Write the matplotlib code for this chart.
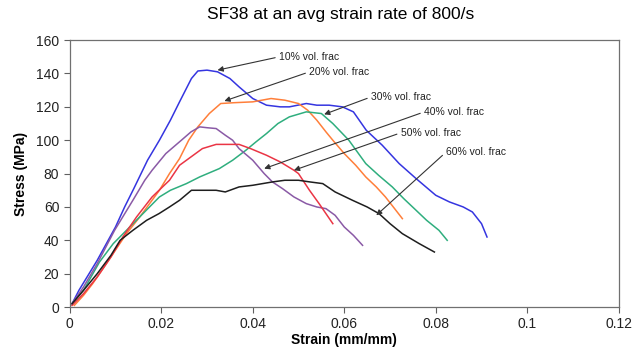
import matplotlib
matplotlib.use("Agg")
import matplotlib.pyplot as plt

plt.rcParams['font.family'] = ['Liberation Sans', 'DejaVu Sans']

# 10% vol. frac (blue)
x10 = [0.0005, 0.002, 0.004, 0.006, 0.008, 0.010, 0.012, 0.014, 0.017, 0.0196, 0.022, 0.024,
       0.0266, 0.028, 0.030, 0.0323, 0.035, 0.037, 0.040, 0.043, 0.046, 0.048, 0.0517, 0.054,
       0.0567, 0.0596, 0.062, 0.0648, 0.0683, 0.072, 0.0757, 0.080, 0.083, 0.086, 0.088, 0.090, 0.0912]
y10 = [2, 10, 19, 28, 38, 48, 60, 71, 88, 100, 112, 123,
       137, 141.5, 142, 141, 137, 132, 125, 121, 120, 120, 122, 121,
       121, 120, 117, 106, 97, 86, 77, 67, 63, 60, 57, 50, 42]

# 20% vol. frac (orange)
x20 = [0.001, 0.003, 0.005, 0.008, 0.0124, 0.0153, 0.0196, 0.0218, 0.024, 0.026, 0.028, 0.0305,
       0.033, 0.036, 0.040, 0.044, 0.047, 0.050, 0.052, 0.054, 0.056, 0.0575, 0.060, 0.0625,
       0.0647, 0.067, 0.069, 0.071, 0.0727]
y20 = [1, 7, 14, 26, 44, 54, 70, 80, 89, 100, 108, 116,
       122, 122.5, 123, 125, 124, 122, 118, 112, 105, 100, 92, 85,
       78, 72, 66, 59, 53]

# 30% vol. frac (green)
x30 = [0.0005, 0.003, 0.0065, 0.0095, 0.0124, 0.016, 0.0196, 0.022, 0.0255, 0.0284, 0.0327, 0.0356,
       0.0385, 0.0407, 0.043, 0.0455, 0.048, 0.0517, 0.055, 0.0575, 0.061, 0.0647, 0.0675, 0.0705,
       0.073, 0.0757, 0.078, 0.0807, 0.0825]
y30 = [2, 10, 27, 38, 46, 56, 66, 70, 74, 78, 83, 88,
       94, 99, 104, 110, 114, 117, 116, 110, 100, 86, 79, 72,
       65, 58, 52, 46, 40]

# 40% vol. frac (purple)
x40 = [0.0005, 0.003, 0.006, 0.0098, 0.0138, 0.0164, 0.018, 0.021, 0.0244, 0.0265, 0.0284, 0.030,
       0.032, 0.034, 0.0356, 0.037, 0.040, 0.0425, 0.0443, 0.0465, 0.049, 0.0517, 0.054, 0.056,
       0.058, 0.060, 0.062, 0.064]
y40 = [2, 12, 26, 46, 64, 76, 82, 92, 100, 105, 108, 107.5,
       107, 103, 100, 95, 88, 80, 75, 71, 66, 62, 60, 59,
       55, 48, 43, 37]

# 50% vol. frac (red)
x50 = [0.0005, 0.003, 0.006, 0.009, 0.0116, 0.0146, 0.018, 0.0218, 0.024, 0.0265, 0.029, 0.032,
       0.035, 0.037, 0.0395, 0.043, 0.046, 0.049, 0.050, 0.0524, 0.0545, 0.056, 0.0575]
y50 = [1, 8, 18, 30, 42, 54, 66, 76, 85, 90, 95, 97.5,
       97.5, 97.5, 95, 91, 87, 82, 80, 70, 62, 56, 50]

# 60% vol. frac (black)
x60 = [0.0005, 0.003, 0.006, 0.009, 0.011, 0.0138, 0.0168, 0.0195, 0.0218, 0.024, 0.0266, 0.029,
       0.032, 0.034, 0.037, 0.040, 0.0443, 0.047, 0.050, 0.0525, 0.0553, 0.058, 0.0618, 0.065,
       0.0676, 0.070, 0.0727, 0.0764, 0.0797]
y60 = [2, 10, 20, 31, 40, 46, 52, 56, 60, 64, 70, 70,
       70, 69, 72, 73, 75, 76, 76, 75, 74, 69, 64, 60,
       56, 50, 44, 38, 33]

labels = ["10% vol. frac", "20% vol. frac", "30% vol. frac",
          "40% vol. frac", "50% vol. frac", "60% vol. frac"]
colors = ["#3535e0", "#ff7f3a", "#2fae7e", "#8a5aa6", "#ea3545", "#1e1e1e"]
series = [(x10, y10), (x20, y20), (x30, y30), (x40, y40), (x50, y50), (x60, y60)]

# annotation arrow tips and text anchors (data units)
tips = [(0.0323, 142), (0.0338, 123.5), (0.0556, 115.5), (0.0425, 83), (0.049, 82), (0.067, 55)]
text_pos = [(0.0458, 150), (0.0524, 141), (0.0659, 126), (0.0775, 117), (0.0724, 104.5), (0.0823, 93)]

xticks = [0, 0.02, 0.04, 0.06, 0.08, 0.1, 0.12]
xticklabels = ["0", "0.02", "0.04", "0.06", "0.08", "0.1", "0.12"]
yticks = [0, 20, 40, 60, 80, 100, 120, 140, 160]

fig = plt.figure(figsize=(6.34, 3.55), dpi=100)
ax = fig.add_axes([0.110, 0.135, 0.866, 0.752])

for (xs, ys), c in zip(series, colors):
    ax.plot(xs, ys, color=c, lw=1.1)

for lab, tip, tp in zip(labels, tips, text_pos):
    ax.annotate(lab, xy=tip, xytext=tp, ha='left', va='center', fontsize=7.5,
                color='#222222',
                arrowprops=dict(arrowstyle='-|>', color='#333333', lw=0.8,
                                mutation_scale=8, shrinkA=1, shrinkB=0,
                                relpos=(0, 0.5)))

ax.set_xlim(0, 0.12)
ax.set_ylim(0, 160)
ax.set_xticks(xticks)
ax.set_xticklabels(xticklabels)
ax.set_yticks(yticks)
ax.tick_params(axis='both', direction='out', length=4, width=0.8, color='#606060',
               labelsize=10, labelcolor='#222222')
for s in ax.spines.values():
    s.set_color('#707070')
    s.set_linewidth(0.9)

ax.set_xlabel("Strain (mm/mm)", fontsize=10, fontweight='bold', labelpad=1)
ax.set_ylabel("Stress (MPa)", fontsize=10, fontweight='bold', labelpad=6)
fig.text(0.537, 0.96, "SF38 at an avg strain rate of 800/s", ha='center', va='center',
         fontsize=12.5)

fig.savefig("out.png", dpi=100)
